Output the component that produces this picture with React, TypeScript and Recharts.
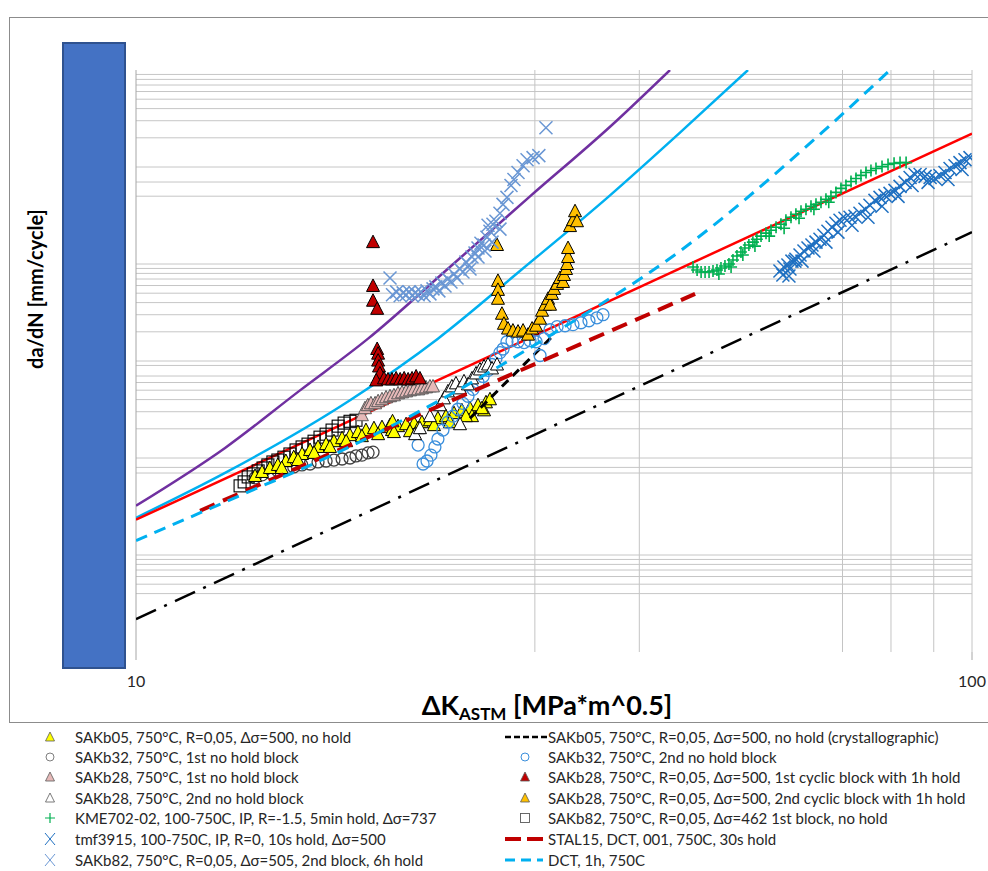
import React from "react";
import { ScatterChart, Scatter, XAxis, YAxis, ReferenceLine } from "recharts";

type P = [number, number];

// ΔK [MPa*m^0.5], da/dN [mm/cycle]
const sakb05: P[] = [
  [13.88, 6.53e-6], [14.15, 7.18e-6], [14.46, 7.89e-6], [14.78, 8.48e-6], [15.11, 9.31e-6], [15.44, 1.02e-5],
  [15.8, 1.1e-5], [16.15, 1.21e-5], [16.51, 1.3e-5], [16.88, 1.39e-5], [17.25, 1.49e-5], [17.64, 1.6e-5],
  [18.03, 1.72e-5], [18.43, 1.85e-5], [18.84, 1.94e-5], [19.26, 2.03e-5], [19.69, 2.08e-5], [20.13, 2.18e-5],
  [20.58, 2.13e-5], [21.04, 2.23e-5], [21.51, 2.29e-5], [21.98, 2.34e-5], [22.47, 2.45e-5], [22.97, 2.57e-5],
  [23.48, 2.7e-5], [24.01, 2.9e-5], [24.54, 3.1e-5], [25.09, 3.26e-5], [25.65, 3.5e-5], [26.22, 3.75e-5],
  [26.51, 4.03e-5], [26.08, 3.1e-5], [25.23, 2.7e-5], [21.27, 1.89e-5], [20.24, 1.94e-5], [20.27, 2.39e-5],
  [14.94, 7.89e-6], [15.62, 9.53e-6], [16.33, 1.13e-5], [17.06, 1.3e-5], [17.84, 1.49e-5], [18.63, 1.68e-5],
  [19.48, 1.76e-5], [20.35, 1.85e-5], [21.75, 2.03e-5], [22.72, 2.18e-5], [23.74, 2.34e-5], [24.81, 2.7e-5],
  [25.93, 3.26e-5],
];
const sakb05Cryst: P[] = [[25.09, 2.57e-5], [31.45, 1.78e-4]];
const sakb32First: P[] = [
  [13.88, 6.24e-6], [14.15, 6.7e-6], [14.46, 7.02e-6], [14.78, 7.36e-6], [15.11, 7.71e-6], [15.44, 8.09e-6],
  [15.79, 8.48e-6], [16.15, 8.67e-6], [16.51, 9.1e-6], [16.88, 9.31e-6], [17.25, 9.53e-6], [17.64, 9.77e-6],
  [18.03, 1.0e-5], [18.33, 1.05e-5], [18.63, 1.07e-5], [18.95, 1.13e-5], [19.21, 1.15e-5],
];
const sakb32Second: P[] = [
  [21.75, 1.36e-5], [22.05, 8.67e-6], [22.29, 9.31e-6], [22.53, 1.07e-5], [22.78, 1.3e-5], [22.97, 1.57e-5],
  [23.29, 1.94e-5], [23.61, 2.34e-5], [23.94, 2.7e-5], [24.27, 3.18e-5], [24.61, 3.66e-5], [24.95, 4.33e-5],
  [25.3, 5.1e-5], [25.65, 6.02e-5], [26.01, 6.93e-5], [26.37, 8.0e-5], [26.66, 9.2e-5], [26.95, 1.06e-4],
  [27.25, 1.22e-4], [27.48, 1.33e-4], [27.78, 1.58e-4], [28.17, 1.62e-4], [28.64, 1.58e-4], [29.12, 1.55e-4],
  [29.6, 1.62e-4], [30.1, 1.58e-4], [30.43, 1.14e-4], [30.77, 1.7e-4], [31.28, 2.1e-4], [31.89, 2.26e-4],
  [32.6, 2.31e-4], [33.32, 2.37e-4], [34.06, 2.48e-4], [34.82, 2.6e-4], [35.59, 2.79e-4], [36.19, 3.0e-4],
];
const sakb28First: P[] = [
  [18.63, 2.76e-5], [18.79, 3.26e-5], [18.94, 3.5e-5], [19.1, 3.66e-5], [19.32, 3.66e-5], [19.48, 3.85e-5],
  [19.69, 4.03e-5], [19.91, 4.22e-5], [20.13, 4.33e-5], [20.35, 4.43e-5], [20.58, 4.64e-5], [20.81, 4.75e-5],
  [21.04, 4.86e-5], [21.27, 4.98e-5], [21.51, 5.1e-5], [21.75, 5.1e-5], [21.98, 5.22e-5], [22.23, 5.35e-5],
  [22.47, 5.47e-5], [22.66, 5.47e-5],
];
const sakb28Cyclic1: P[] = [
  [19.21, 1.68e-3], [19.21, 5.94e-4], [19.21, 4.18e-4], [19.43, 3.45e-4], [19.43, 1.33e-4], [19.48, 1.19e-4],
  [19.48, 1.01e-4], [19.53, 8.78e-5], [19.58, 7.44e-5], [19.38, 6.31e-5], [19.8, 6.62e-5], [20.02, 6.46e-5],
  [20.24, 6.46e-5], [20.47, 6.62e-5], [20.7, 6.46e-5], [20.93, 6.62e-5], [21.16, 6.46e-5], [21.39, 6.62e-5],
  [21.63, 6.93e-5], [21.86, 6.62e-5],
];
const sakb28Second: P[] = [
  [21.57, 1.76e-5], [21.86, 2.03e-5], [22.47, 2.7e-5], [23.1, 3.5e-5], [23.35, 4.12e-5], [23.61, 4.86e-5],
  [23.87, 5.47e-5], [24.14, 5.88e-5], [24.41, 5.22e-5], [24.41, 2.23e-5], [24.68, 6.17e-5], [24.95, 5.74e-5],
  [25.23, 6.62e-5], [25.51, 7.44e-5], [25.79, 8.18e-5], [26.08, 8.78e-5], [26.37, 9.2e-5], [26.66, 8.38e-5],
  [27.03, 9.2e-5],
];
const sakb28Cyclic2: P[] = [
  [27.03, 1.57e-3], [27.1, 6.7e-4], [27.1, 5.41e-4], [27.1, 4.38e-4], [27.4, 3.07e-4], [27.55, 2.42e-4],
  [27.86, 2.16e-4], [28.24, 2.06e-4], [28.64, 2.01e-4], [29.04, 2.06e-4], [29.44, 1.87e-4], [29.77, 2.16e-4],
  [30.1, 2.31e-4], [30.43, 2.73e-4], [30.6, 3.3e-4], [30.85, 3.8e-4], [31.11, 4.38e-4], [31.28, 3.8e-4],
  [31.45, 4.92e-4], [31.63, 5.54e-4], [31.89, 6.24e-4], [32.15, 7.18e-4], [32.42, 6.53e-4], [32.51, 7.71e-4],
  [32.69, 8.89e-4], [32.78, 1.0e-3], [32.87, 1.18e-3], [32.87, 1.46e-3], [33.05, 2.46e-3], [33.32, 2.83e-3],
  [33.51, 3.5e-3], [33.69, 2.76e-3],
];
const kme702: P[] = [
  [46.38, 9.31e-4], [46.9, 8.68e-4], [47.42, 8.28e-4], [47.94, 8.28e-4], [48.47, 8.28e-4], [49.0, 8.47e-4],
  [49.54, 8.68e-4], [50.09, 9.1e-4], [50.64, 9.54e-4], [51.2, 1.0e-3], [51.77, 1.1e-3], [52.34, 1.21e-3],
  [52.92, 1.33e-3], [53.5, 1.46e-3], [54.09, 1.57e-3], [54.69, 1.68e-3], [55.29, 1.8e-3], [55.93, 1.94e-3],
  [56.7, 2.08e-3], [57.49, 2.23e-3], [58.29, 2.39e-3], [59.08, 2.57e-3], [59.9, 2.83e-3], [60.74, 3.03e-3],
  [61.57, 3.26e-3], [62.44, 3.5e-3], [63.3, 3.67e-3], [64.18, 3.93e-3], [65.07, 4.12e-3], [65.97, 4.33e-3],
  [66.88, 4.64e-3], [67.81, 4.98e-3], [68.75, 5.47e-3], [69.71, 6.02e-3], [70.67, 6.46e-3], [71.66, 7.1e-3],
  [72.65, 7.62e-3], [73.65, 8.19e-3], [74.68, 8.79e-3], [75.71, 9.2e-3], [76.76, 9.66e-3], [78.05, 1.01e-2],
  [79.35, 1.06e-2], [80.68, 1.09e-2], [82.02, 1.11e-2], [83.4, 1.11e-2],
  [49.8, 7.89e-4], [51.5, 9.31e-4], [53.2, 1.24e-3], [55.0, 1.53e-3], [57.2, 1.94e-3], [59.6, 2.34e-3],
  [62.1, 2.96e-3], [64.7, 3.67e-3], [67.4, 4.33e-3],
];
const sakb82First: P[] = [
  [13.32, 5.16e-6], [13.47, 5.67e-6], [13.62, 6.38e-6], [13.81, 6.86e-6], [14.0, 7.36e-6], [14.19, 7.89e-6],
  [14.38, 8.48e-6], [14.58, 9.1e-6], [14.78, 9.53e-6], [15.03, 1.02e-5], [15.28, 1.1e-5], [15.54, 1.21e-5],
  [15.8, 1.3e-5], [16.06, 1.39e-5], [16.33, 1.49e-5], [16.6, 1.64e-5], [16.88, 1.76e-5], [17.16, 1.94e-5],
  [17.45, 2.13e-5], [17.74, 2.29e-5], [18.03, 2.39e-5], [18.33, 2.45e-5],
];
const tmf3915: P[] = [
  [58.92, 8.47e-4], [59.57, 9.31e-4], [60.23, 9.77e-4], [60.9, 1.07e-3], [61.57, 1.12e-3], [62.27, 1.24e-3],
  [62.95, 1.36e-3], [63.65, 1.46e-3], [64.35, 1.57e-3], [65.07, 1.68e-3], [65.79, 1.8e-3], [66.51, 1.98e-3],
  [67.25, 2.18e-3], [68.0, 2.39e-3], [68.75, 2.63e-3], [69.52, 2.83e-3], [70.48, 2.96e-3], [71.46, 3.03e-3],
  [72.45, 3.11e-3], [73.45, 3.33e-3], [74.47, 3.67e-3], [75.5, 4.03e-3], [76.55, 4.53e-3], [77.62, 4.86e-3],
  [78.69, 5.1e-3], [79.79, 5.35e-3], [80.89, 5.74e-3], [82.02, 6.31e-3], [83.17, 6.94e-3], [84.32, 7.8e-3],
  [85.48, 8.38e-3], [86.68, 8.38e-3], [87.88, 8.0e-3], [89.1, 7.8e-3], [90.33, 7.62e-3], [91.56, 8.19e-3],
  [92.84, 8.79e-3], [94.13, 9.66e-3], [95.43, 1.03e-2], [96.74, 1.11e-2], [98.09, 1.19e-2], [99.45, 1.25e-2],
  [60.57, 8.89e-4], [62.61, 1.07e-3], [64.71, 1.36e-3], [66.88, 1.68e-3], [69.13, 2.13e-3], [71.86, 2.51e-3],
  [75.09, 3.03e-3], [78.05, 3.93e-3], [81.57, 4.98e-3], [84.78, 6.46e-3], [88.6, 6.94e-3], [93.6, 7.44e-3],
  [97.3, 9.42e-3], [59.4, 7.71e-4], [60.4, 7.53e-4], [61.4, 1.07e-3],
];
const stal15: P[] = [[11.93, 2.86e-6], [46.64, 4.92e-4]];
const sakb82Second: P[] = [
  [20.13, 7.18e-4], [20.27, 4.81e-4], [20.5, 5.16e-4], [20.7, 4.7e-4], [20.87, 5.04e-4], [21.04, 4.81e-4],
  [21.22, 5.16e-4], [21.39, 4.7e-4], [21.57, 5.04e-4], [21.75, 4.81e-4], [21.92, 5.16e-4], [22.11, 4.7e-4],
  [22.29, 5.28e-4], [22.47, 4.92e-4], [22.66, 5.54e-4], [22.84, 5.81e-4], [23.03, 5.28e-4], [23.22, 6.38e-4],
  [23.42, 5.94e-4], [23.61, 7.02e-4], [23.81, 6.53e-4], [24.01, 7.89e-4], [24.21, 7.18e-4], [24.41, 8.89e-4],
  [24.61, 8.28e-4], [24.81, 1.05e-3], [25.02, 9.77e-4], [25.23, 1.18e-3], [25.44, 1.3e-3], [25.65, 1.46e-3],
  [25.86, 1.64e-3], [26.08, 1.57e-3], [26.29, 1.89e-3], [26.51, 2.18e-3], [26.73, 2.57e-3], [26.95, 2.76e-3],
  [27.25, 3.33e-3], [27.48, 4.12e-3], [27.78, 4.86e-3], [28.09, 6.46e-3], [28.32, 7.44e-3], [28.64, 8.79e-3],
  [29.04, 1.03e-2], [29.36, 1.19e-2], [29.85, 1.25e-2], [30.33, 1.31e-2], [30.93, 2.54e-2],
  [25.65, 1.18e-3], [26.15, 1.36e-3], [25.09, 8.89e-4], [26.66, 1.68e-3], [27.25, 2.29e-3], [26.37, 2.51e-3],
];
const dct1h: P[] = [
  [10, 1.41e-6], [12.96, 3.71e-6], [17.69, 1.21e-5], [23.1, 3.94e-5], [31.28, 1.83e-4], [44.74, 1.36e-3],
  [66.33, 2.31e-2], [79.79, 1e-1],
];
const purpleCurve: P[] = [
  [10, 3.22e-6], [12.78, 1.27e-5], [15.71, 4.98e-5], [18.95, 1.7e-4], [23.74, 9.31e-4], [29.6, 4.98e-3],
  [36.9, 2.6e-2], [43.53, 1e-1],
];
const cyanCurve: P[] = [
  [10, 2.42e-6], [12.78, 7.02e-6], [18.03, 3.94e-5], [22.97, 1.7e-4], [28.79, 8.47e-4], [36.9, 5.1e-3],
  [44.74, 2.26e-2], [53.96, 1e-1],
];
const redLine: P[] = [[10, 2.31e-6], [100, 2.21e-2]];
const dashDotLine: P[] = [[10, 2.18e-7], [100, 2.13e-3]];

const xTicks = [10, 100];
const xGrid = [30, 40, 70, 80, 90, 100];
const yMajorTicks = [1e-2, 1e-3, 1e-5, 1e-6];
// horizontal gridlines that show in the picture
const yGrid = [
  2e-2, 3e-2, 4e-2, 5e-2, 6e-2, 7e-2, 8e-2, 9e-2,
  1e-2, 5e-3, 7e-3,
  1e-3, 2e-4, 3e-4, 4e-4, 5e-4, 6e-4, 7e-4, 8e-4, 9e-4,
  1e-4, 2e-5, 3e-5, 4e-5, 5e-5, 6e-5, 7e-5, 9e-5,
  1e-5, 7e-6, 8e-6,
  1e-6, 4e-7, 5e-7, 6e-7, 7e-7, 8e-7, 9e-7,
];

const pts = (a: P[]) => a.map(([k, v]) => ({ k, v }));

const none = () => <g />;
const tri = (fill: string, stroke: string) => (p: any) => (
  <path
    d={`M${p.cx},${p.cy - 7}L${p.cx + 6.5},${p.cy + 5.5}L${p.cx - 6.5},${p.cy + 5.5}Z`}
    fill={fill}
    stroke={stroke}
    strokeWidth={1}
  />
);
const circ = (stroke: string) => (p: any) => (
  <circle cx={p.cx} cy={p.cy} r={6} fill="none" stroke={stroke} strokeWidth={1.3} />
);
const sq = (p: any) => (
  <rect x={p.cx - 6} y={p.cy - 6} width={12} height={12} fill="none" stroke="#000" strokeWidth={1.1} />
);
const cross = (stroke: string) => (p: any) => (
  <path
    d={`M${p.cx - 6.5},${p.cy - 6.5}L${p.cx + 6.5},${p.cy + 6.5}M${p.cx - 6.5},${p.cy + 6.5}L${p.cx + 6.5},${p.cy - 6.5}`}
    stroke={stroke}
    strokeWidth={1.5}
  />
);
const plus = (stroke: string) => (p: any) => (
  <path
    d={`M${p.cx - 6},${p.cy}L${p.cx + 6},${p.cy}M${p.cx},${p.cy - 6}L${p.cx},${p.cy + 6}`}
    stroke={stroke}
    strokeWidth={1.6}
  />
);

const YELLOW = "#ffff00";
const ORANGE = "#ffc000";
const DARKRED = "#c00000";
const PINK = "#e6b9b8";
const GREEN = "#00b050";
const BLUE_X = "#1f70c1";
const STEEL_X = "#6a97d4";
const CIRCLE_BLUE = "#3b8fdc";
const CIRCLE_GRAY = "#404040";

type Icon = { kind: string; color?: string };
const legendLeft: { label: string; icon: Icon }[] = [
  { label: "SAKb05, 750°C, R=0,05, Δσ=500, no hold", icon: { kind: "tri", color: YELLOW } },
  { label: "SAKb32, 750°C, 1st no hold block", icon: { kind: "circ", color: "#7f7f7f" } },
  { label: "SAKb28, 750°C, 1st no hold block", icon: { kind: "tri", color: PINK } },
  { label: "SAKb28, 750°C, 2nd no hold block", icon: { kind: "tri", color: "#fff" } },
  { label: "KME702-02, 100-750C, IP, R=-1.5, 5min hold, Δσ=737", icon: { kind: "plus", color: GREEN } },
  { label: "tmf3915, 100-750C, IP, R=0, 10s hold, Δσ=500", icon: { kind: "cross", color: BLUE_X } },
  { label: "SAKb82, 750°C, R=0,05,  Δσ=505, 2nd block, 6h hold", icon: { kind: "cross", color: STEEL_X } },
];
const legendRight: { label: string; icon: Icon }[] = [
  { label: "SAKb05, 750°C, R=0,05, Δσ=500, no hold (crystallographic)", icon: { kind: "blackdash" } },
  { label: "SAKb32, 750°C, 2nd no hold block", icon: { kind: "circ", color: CIRCLE_BLUE } },
  { label: "SAKb28, 750°C, R=0,05, Δσ=500, 1st cyclic block with 1h hold", icon: { kind: "tri", color: DARKRED } },
  { label: "SAKb28, 750°C, R=0,05, Δσ=500, 2nd cyclic block with 1h hold", icon: { kind: "tri", color: ORANGE } },
  { label: "SAKb82, 750°C, R=0,05,  Δσ=462 1st block, no hold", icon: { kind: "sq" } },
  { label: "STAL15, DCT,  001, 750C, 30s hold", icon: { kind: "reddash" } },
  { label: "DCT, 1h, 750C", icon: { kind: "cyandash" } },
];

function LegendIcon({ icon, wide }: { icon: Icon; wide: boolean }) {
  const w = wide ? 44 : 20;
  const c = w / 2;
  let el: React.ReactNode = null;
  if (icon.kind === "tri")
    el = <path d={`M${c},3L${c + 4.5},12L${c - 4.5},12Z`} fill={icon.color} stroke="#595959" strokeWidth={0.8} />;
  if (icon.kind === "circ") el = <circle cx={c} cy={8} r={4} fill="none" stroke={icon.color} strokeWidth={1} />;
  if (icon.kind === "sq") el = <rect x={c - 4.5} y={3.5} width={9} height={9} fill="none" stroke="#595959" strokeWidth={0.9} />;
  if (icon.kind === "plus")
    el = <path d={`M${c - 5},8L${c + 5},8M${c},3L${c},13`} stroke={icon.color} strokeWidth={1.2} />;
  if (icon.kind === "cross")
    el = <path d={`M${c - 5},2L${c + 5},14M${c - 5},14L${c + 5},2`} stroke={icon.color} strokeWidth={1} />;
  if (icon.kind === "blackdash")
    el = <line x1={2} y1={8} x2={w} y2={8} stroke="#000" strokeWidth={2.5} strokeDasharray="6 3" />;
  if (icon.kind === "reddash")
    el = <line x1={2} y1={8} x2={w - 4} y2={8} stroke={DARKRED} strokeWidth={4} strokeDasharray="16 6" />;
  if (icon.kind === "cyandash")
    el = <line x1={2} y1={8} x2={w - 4} y2={8} stroke="#00b0f0" strokeWidth={3} strokeDasharray="10 6" />;
  return (
    <svg width={w} height={16} style={{ display: "block" }}>
      {el}
    </svg>
  );
}

const FONT = "Lato, 'Open Sans', 'Liberation Sans', sans-serif";

export default function App() {
  const rowY = [728, 748, 768, 789, 809, 830, 851];
  return (
    <div style={{ position: "absolute", left: 0, top: 0, width: 988, height: 871, background: "#fff", fontFamily: FONT, overflow: "hidden" }}>
      <div style={{ position: "absolute", left: 9, top: 17, width: 1000, height: 704, border: "1px solid #8c8c8c" }} />
      <div style={{ position: "absolute", left: 0, top: 0 }}>
        <ScatterChart width={988} height={871} margin={{ top: 70, right: 16, left: 126, bottom: 179 }}>
          <XAxis
            type="number"
            dataKey="k"
            scale="log"
            domain={[10, 100]}
            allowDataOverflow
            ticks={xTicks}
            height={40}
            axisLine={false}
            tickLine={{ stroke: "#a6a6a6" }}
            tickSize={8}
            tickMargin={16}
            tick={{ fontSize: 16, fill: "#262626", fontFamily: FONT }}
          />
          <YAxis
            type="number"
            dataKey="v"
            scale="log"
            domain={[1e-7, 1e-1]}
            allowDataOverflow
            ticks={yMajorTicks}
            width={10}
            axisLine={{ stroke: "#a6a6a6" }}
            tickLine={{ stroke: "#a6a6a6" }}
            tickSize={7}
            tick={false}
          />
          {yGrid.map((y) => (
            <ReferenceLine key={`h${y}`} y={y} stroke="#c6c6c6" strokeWidth={1} />
          ))}
          {xGrid.map((x) => (
            <ReferenceLine key={`v${x}`} x={x} stroke="#c4c4c4" strokeWidth={1} />
          ))}

          <Scatter data={pts(purpleCurve)} shape={none} line={{ stroke: "#7030a0", strokeWidth: 2.5 }} lineType="joint" lineJointType="monotoneX" isAnimationActive={false} />
          <Scatter data={pts(cyanCurve)} shape={none} line={{ stroke: "#00b0f0", strokeWidth: 2.5 }} lineType="joint" lineJointType="monotoneX" isAnimationActive={false} />
          <Scatter data={pts(redLine)} shape={none} line={{ stroke: "#ff0000", strokeWidth: 2.5 }} lineType="joint" isAnimationActive={false} />
          <Scatter data={pts(dashDotLine)} shape={none} line={{ stroke: "#000", strokeWidth: 2.5, strokeDasharray: "22 9 3 9" }} lineType="joint" isAnimationActive={false} />

          <Scatter data={pts(sakb32First)} shape={circ(CIRCLE_GRAY)} isAnimationActive={false} />
          <Scatter data={pts(sakb82First)} shape={sq} isAnimationActive={false} />
          <Scatter data={pts(sakb05)} shape={tri(YELLOW, "#000")} isAnimationActive={false} />
          <Scatter data={pts(sakb05Cryst)} shape={none} line={{ stroke: "#000", strokeWidth: 3, strokeDasharray: "9 6" }} lineType="joint" isAnimationActive={false} />
          <Scatter data={pts(sakb32Second)} shape={circ(CIRCLE_BLUE)} isAnimationActive={false} />
          <Scatter data={pts(sakb28First)} shape={tri(PINK, "#595959")} isAnimationActive={false} />
          <Scatter data={pts(sakb28Cyclic1)} shape={tri(DARKRED, "#000")} isAnimationActive={false} />
          <Scatter data={pts(sakb28Second)} shape={tri("#fff", "#000")} isAnimationActive={false} />
          <Scatter data={pts(sakb28Cyclic2)} shape={tri(ORANGE, "#000")} isAnimationActive={false} />
          <Scatter data={pts(kme702)} shape={plus(GREEN)} isAnimationActive={false} />
          <Scatter data={pts(tmf3915)} shape={cross(BLUE_X)} isAnimationActive={false} />
          <Scatter data={pts(stal15)} shape={none} line={{ stroke: DARKRED, strokeWidth: 4, strokeDasharray: "16 9" }} lineType="joint" isAnimationActive={false} />
          <Scatter data={pts(sakb82Second)} shape={cross(STEEL_X)} isAnimationActive={false} />
          <Scatter data={pts(dct1h)} shape={none} line={{ stroke: "#00b0f0", strokeWidth: 3, strokeDasharray: "12 8" }} lineType="joint" lineJointType="monotoneX" isAnimationActive={false} />
        </ScatterChart>
      </div>

      <div style={{ position: "absolute", left: 62, top: 42, width: 60, height: 623, background: "#4472c4", border: "2px solid #2f528f" }} />

      <div
        style={{
          position: "absolute",
          left: 35,
          top: 289,
          transform: "translate(-50%, -50%) rotate(-90deg)",
          whiteSpace: "nowrap",
          fontSize: 20,
          fontWeight: 700,
          color: "#000",
        }}
      >
        da/dN [mm/cycle]
      </div>

      <div
        style={{
          position: "absolute",
          left: 547,
          top: 706,
          transform: "translate(-50%, -50%)",
          whiteSpace: "nowrap",
          fontSize: 27,
          fontWeight: 700,
          color: "#000",
        }}
      >
        ΔK<sub style={{ fontSize: 17, verticalAlign: -5 }}>ASTM</sub> [MPa*m^0.5]
      </div>

      {legendLeft.map((e, i) => (
        <div key={`l${i}`} style={{ position: "absolute", left: 40, top: rowY[i], display: "flex", alignItems: "center", fontSize: 15, color: "#262626", whiteSpace: "nowrap" }}>
          <LegendIcon icon={e.icon} wide={false} />
          <span style={{ marginLeft: 15 }}>{e.label}</span>
        </div>
      ))}
      {legendRight.map((e, i) => (
        <div key={`r${i}`} style={{ position: "absolute", left: 503, top: rowY[i], display: "flex", alignItems: "center", fontSize: 15, color: "#262626", whiteSpace: "nowrap" }}>
          <LegendIcon icon={e.icon} wide={true} />
          <span style={{ marginLeft: 1 }}>{e.label}</span>
        </div>
      ))}
    </div>
  );
}
